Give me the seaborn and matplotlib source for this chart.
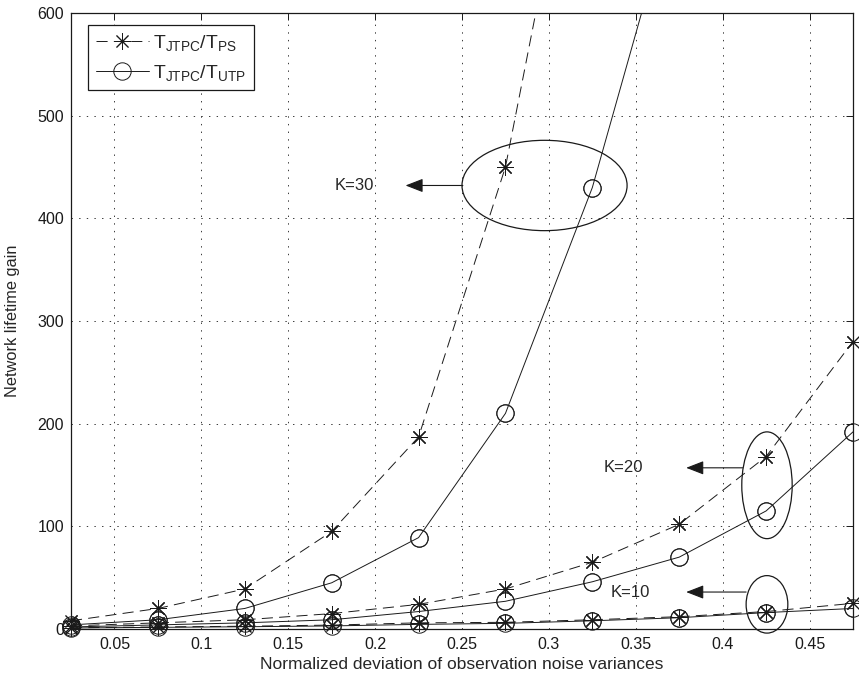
import numpy as np
import pandas as pd
import matplotlib
matplotlib.use("Agg")
import matplotlib.pyplot as plt
from matplotlib.patches import Ellipse
import seaborn as sns

# ---- data ----
x_all = [0.025, 0.075, 0.125, 0.175, 0.225, 0.275, 0.325, 0.375, 0.425, 0.475]
k30_ps = [8, 20, 39, 95, 187, 450, 880]
k30_utp = [4, 9, 20, 45, 89, 210, 430, 730]
k20_ps = [3, 6, 9, 15, 24, 39, 65, 102, 168, 280]
k20_utp = [2, 4, 6, 9, 17, 27, 46, 70, 115, 192]
k10_ps = [1.2, 2.0, 2.7, 3.8, 6, 6.5, 9, 12, 17, 25]
k10_utp = [1.0, 1.6, 2.2, 3.0, 4.5, 5.5, 8, 11, 16, 20]
xticks = [0.05, 0.1, 0.15, 0.2, 0.25, 0.3, 0.35, 0.4, 0.45]
xtick_labels = ["0.05", "0.1", "0.15", "0.2", "0.25", "0.3", "0.35", "0.4", "0.45"]
yticks = [0, 100, 200, 300, 400, 500, 600]
label_ps = r"$\mathregular{T_{JTPC}/T_{PS}}$"
label_utp = r"$\mathregular{T_{JTPC}/T_{UTP}}$"

sns.set_theme(style="white")
plt.rcParams["font.family"] = ["Liberation Sans", "DejaVu Sans"]
plt.rcParams["mathtext.fontset"] = "custom"
plt.rcParams["mathtext.rm"] = "Liberation Sans"
plt.rcParams["lines.scale_dashes"] = False

fig = plt.figure(figsize=(8.59, 6.82), dpi=100)
ax = fig.add_axes([71 / 859, 53 / 682, 782 / 859, 616 / 682])

YMAX = 600
star = (8, 2, 0)
dash = (0, (8, 4.5))
mk = dict(markeredgecolor="k", markerfacecolor="none", markeredgewidth=0.7)
common = dict(color="k", lw=0.7, estimator=None, sort=False, ax=ax, **mk)

series = [
    (k30_ps, "ps"), (k30_utp, "utp"),
    (k20_ps, "ps"), (k20_utp, "utp"),
    (k10_ps, "ps"), (k10_utp, "utp"),
]
for i, (vals, kind) in enumerate(series):
    df = pd.DataFrame({"x": x_all[:len(vals)], "y": vals})
    if kind == "ps":
        style = dict(marker=star, markersize=12, linestyle=dash)
        lab = label_ps if i == 0 else None
    else:
        style = dict(marker="o", markersize=12.5, linestyle="-")
        lab = label_utp if i == 1 else None
    # line (clipped to the axes)
    sns.lineplot(data=df, x="x", y="y", label=lab, **style, **common)
    # markers inside the y-range drawn unclipped (as MATLAB does)
    dfin = df[df["y"] <= YMAX]
    st2 = dict(style)
    st2["linestyle"] = "none"
    sns.lineplot(data=dfin, x="x", y="y", clip_on=False, **st2, **common)

ax.set_xlim(0.025, 0.475)
ax.set_ylim(0, YMAX)
ax.set_xticks(xticks)
ax.set_xticklabels(xtick_labels)
ax.set_yticks(yticks)
ax.tick_params(direction="in", length=5, width=0.7, top=True, right=True,
               labelsize=11.5, colors="k")
ax.tick_params(axis="x", pad=6)
ax.tick_params(axis="y", pad=5)
for s in ax.spines.values():
    s.set_visible(True)
    s.set_color("k")
    s.set_linewidth(0.9)
ax.grid(True, color="k", linestyle=(0, (1, 4.5)), linewidth=0.6)
ax.set_xlabel("Normalized deviation of observation noise variances", fontsize=12.5)
ax.set_ylabel("Network lifetime gain", fontsize=11.8)
ax.xaxis.set_label_coords(0.5, -0.046)
ax.yaxis.set_label_coords(-0.0655, 0.5)

# annotations
ell_kw = dict(fill=False, edgecolor="k", lw=0.9, clip_on=False)
ax.add_patch(Ellipse((0.2975, 432), 0.095, 88, **ell_kw))
ax.add_patch(Ellipse((0.4255, 140), 0.029, 104, **ell_kw))
ax.add_patch(Ellipse((0.4255, 24), 0.024, 56, **ell_kw))

arr = dict(arrowstyle="-|>,head_length=0.9,head_width=0.35", color="k", lw=0.8,
           shrinkA=0, shrinkB=0)
ax.annotate("", xy=(0.2175, 432), xytext=(0.2505, 432), arrowprops=arr)
ax.annotate("", xy=(0.379, 157), xytext=(0.4115, 157), arrowprops=arr)
ax.annotate("", xy=(0.379, 36), xytext=(0.4135, 36), arrowprops=arr)
ax.text(0.188, 432, "K=30", fontsize=12, ha="center", va="center")
ax.text(0.343, 157, "K=20", fontsize=12, ha="center", va="center")
ax.text(0.347, 36, "K=10", fontsize=12, ha="center", va="center")

handles, labels = ax.get_legend_handles_labels()
leg = ax.legend(handles[:2], labels[:2], loc="upper left",
                bbox_to_anchor=(0.0217, 0.9805), borderaxespad=0,
                fontsize=14, frameon=True, fancybox=False, edgecolor="k",
                handlelength=2.75, handletextpad=0.2, borderpad=0.4, labelspacing=0.5)
leg.get_frame().set_linewidth(0.9)
leg.get_frame().set_alpha(1)

fig.savefig("out.png", dpi=100)
